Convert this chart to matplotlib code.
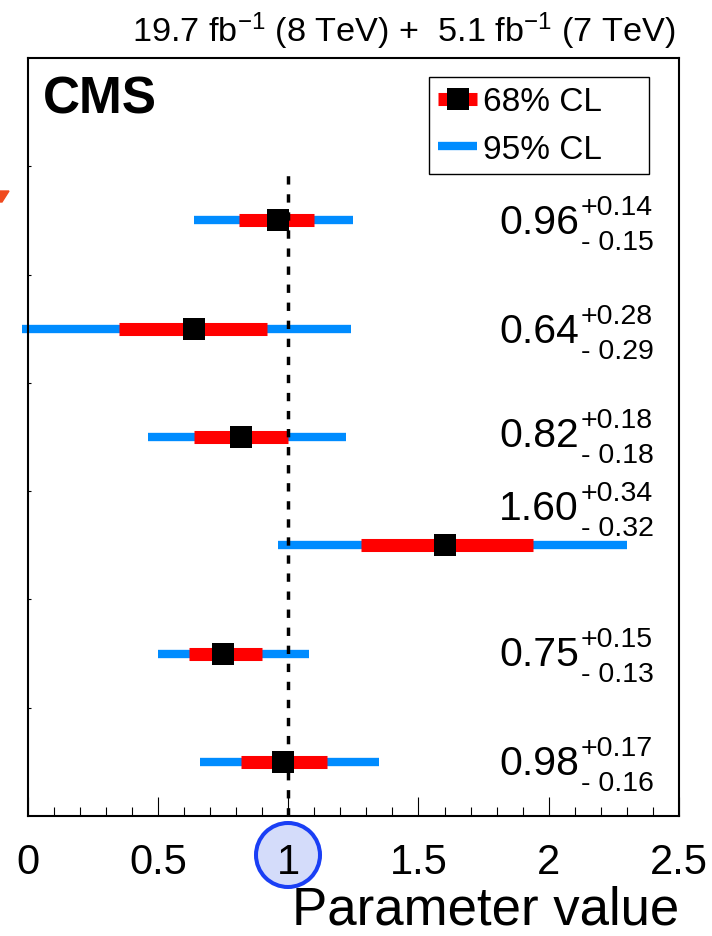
import matplotlib
matplotlib.use("Agg")
import matplotlib.pyplot as plt
from matplotlib.lines import Line2D
from matplotlib.patches import Ellipse, Polygon
from matplotlib.transforms import offset_copy
from matplotlib.ticker import MultipleLocator

plt.rcParams['font.family'] = ['Liberation Sans', 'DejaVu Sans']
plt.rcParams['mathtext.fontset'] = 'custom'
plt.rcParams['mathtext.rm'] = 'Liberation Sans'
plt.rcParams['mathtext.default'] = 'regular'

# fitted values, top row first
central = [0.96, 0.64, 0.82, 1.60, 0.75, 0.98]
err_up = [0.14, 0.28, 0.18, 0.34, 0.15, 0.17]
err_dn = [0.15, 0.29, 0.18, 0.32, 0.13, 0.16]
lo95 = [0.64, -0.02, 0.46, 0.96, 0.50, 0.66]
hi95 = [1.25, 1.24, 1.22, 2.30, 1.08, 1.35]
rows = [5.5, 4.5, 3.5, 2.5, 1.5, 0.5]
label_rows = [5.51, 4.5, 3.54, 2.87, 1.52, 0.51]

xticks = [0, 0.5, 1, 1.5, 2, 2.5]
xtick_labels = ['0', '0.5', '1', '1.5', '2', '2.5']

RED = '#ff0000'
BLUE = '#008cff'

W, H = 712, 937
fig = plt.figure(figsize=(W / 100, H / 100), dpi=100)
ax = fig.add_axes([27.7 / W, 1 - 817 / H, (679 - 27.7) / W, (817 - 59) / H])

lo68 = [c - d for c, d in zip(central, err_dn)]
hi68 = [c + u for c, u in zip(central, err_up)]

ax.hlines(rows, lo95, hi95, colors=BLUE, lw=6, capstyle='butt', clip_on=False, zorder=2)
ax.hlines(rows, lo68, hi68, colors=RED, lw=9.4, capstyle='butt', zorder=3)
ax.plot(central, rows, ls='none', marker='s', ms=16.5, color='k', mew=0, zorder=4)
ax.vlines(1, 0, 5.95, colors='k', linestyles=(0, (2.4, 2.8)), lw=2.5, zorder=5)

# value labels with asymmetric errors
for c, u, d, y in zip(central, err_up, err_dn, label_rows):
    ax.text(2.116, y, '%.2f' % c, ha='right', va='baseline', fontsize=29.5,
            transform=offset_copy(ax.transData, fig=fig, y=-13.5, units='dots'))
    ax.text(2.122, y, '+%.2f' % u, ha='left', va='baseline', fontsize=20.5,
            transform=offset_copy(ax.transData, fig=fig, y=5.5, units='dots'))
    ax.text(2.122, y, '- %.2f' % d, ha='left', va='baseline', fontsize=20.5,
            transform=offset_copy(ax.transData, fig=fig, y=-29.5, units='dots'))

ax.set_xlim(0, 2.5)
ax.set_ylim(0, 7)
ax.set_xticks(xticks, labels=xtick_labels)
ax.xaxis.set_minor_locator(MultipleLocator(0.1))
ax.set_yticks(range(1, 7))
ax.tick_params(axis='x', which='major', direction='in', length=13.7, width=0.8,
               labelsize=30, pad=18.5)
ax.tick_params(axis='x', which='minor', direction='in', length=6.5, width=0.8)
ax.tick_params(axis='y', direction='in', length=2.5, width=0.8, labelleft=False)
for s in ax.spines.values():
    s.set_linewidth(1.5)

ax.set_xlabel('Parameter value', fontsize=38, loc='right')
ax.xaxis.set_label_coords(1.0, (817 - 936) / 758)
ax.xaxis.label.set_va('bottom')

h68 = (Line2D([], [], color=RED, lw=9.4, solid_capstyle='butt'),
       Line2D([], [], ls='none', marker='s', ms=16.5, color='k', mew=0))
h95 = Line2D([], [], color=BLUE, lw=6, solid_capstyle='butt')
leg = ax.legend([h68, h95], ['68% CL', '95% CL'], loc='upper left',
                bbox_to_anchor=(429 / W, 1 - 174 / H, 220 / W, 96 / H),
                bbox_transform=fig.transFigure, mode='expand', borderaxespad=0,
                fontsize=24, handlelength=1.17, handletextpad=0.18,
                labelspacing=0.5, borderpad=0.28, fancybox=False,
                edgecolor='k', framealpha=1, numpoints=1)
leg.get_frame().set_linewidth(1.0)

fig.text(675 / W, 1 - 42 / H, r'19.7 fb$^{-1}$ (8 TeV) +  5.1 fb$^{-1}$ (7 TeV)',
         ha='right', va='baseline', fontsize=24.7)
fig.text(43 / W, 1 - 113 / H, 'CMS', fontweight='bold', fontsize=37, va='baseline')

# highlight around the "1" tick label and the arrow tip at the left edge
circ = Ellipse((288 / 100, (H - 856) / 100), 0.64, 0.64, transform=fig.dpi_scale_trans,
               facecolor='#d4dcfa', edgecolor='#1a3ff5', lw=2.9, zorder=-1)
fig.add_artist(circ)
arrow_px = [(0, 192), (9, 192), (2, 203), (0, 203)]
tip = Polygon([(x / 100, (H - y) / 100) for x, y in arrow_px], closed=True,
              transform=fig.dpi_scale_trans, color='#f04a1e', zorder=3)
fig.add_artist(tip)

fig.savefig('out.png', dpi=100)
